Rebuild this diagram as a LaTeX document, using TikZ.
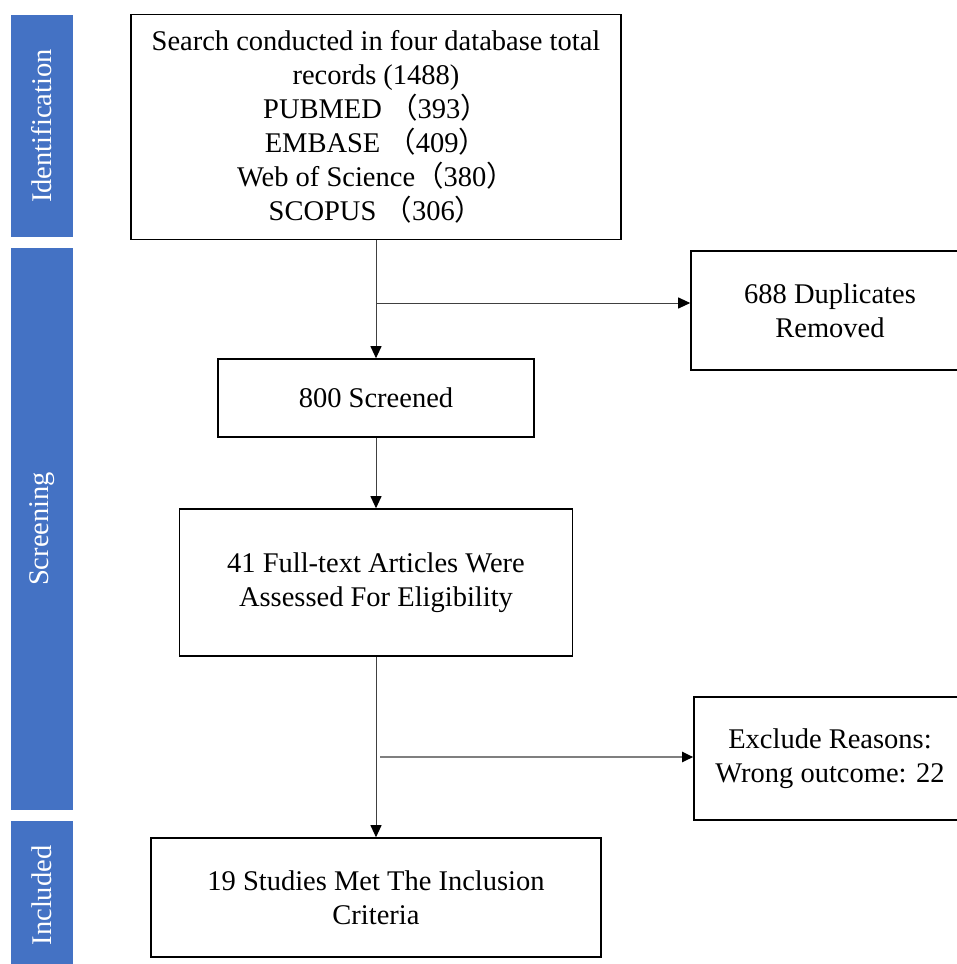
\documentclass[tikz,border=0pt]{standalone}
\usepackage{fontspec}
\setmainfont{Liberation Serif}
\newfontfamily\cjk{Noto Sans CJK SC}
\usetikzlibrary{arrows.meta}
\definecolor{barblue}{HTML}{4472C4}
\definecolor{linegray}{HTML}{404040}
\definecolor{branchgray}{HTML}{7F7F7F}
\newcommand{\lpar}{{\cjk （}}
\newcommand{\rpar}{{\cjk ）}}
\begin{document}
\begin{tikzpicture}[x=1pt,y=-1pt,
  box/.style={draw=black,line width=1.6pt,align=center,inner sep=0pt,
    font=\fontsize{28.5}{34}\selectfont},
  bar/.style={fill=barblue,draw=none,text=white,rotate=90,inner sep=0pt,
    minimum height=62pt,font=\fontsize{28.5}{34}\selectfont},
  conn/.style={draw=linegray,line width=1pt,-{Triangle[length=12pt,width=11pt,color=black]}},
  conngray/.style={draw=branchgray,line width=2pt,-{Triangle[length=11pt,width=10pt,color=black]}}]
\useasboundingbox (0,0) rectangle (956,964);
% phase bars
\node[bar, minimum width=222pt] (idbar) at (42,126) {Identification};
\node[bar, minimum width=562pt] (scbar) at (42,529) {Screening};
\node[bar, minimum width=149pt] (inbar) at (42,895.5) {Included};
% boxes
\node[box, minimum width=490pt, minimum height=225pt] (search) at (376,127)
  {Search conducted in four database total\\records (1488)\\PUBMED \lpar393\rpar\\EMBASE \lpar409\rpar\\Web of Science\lpar380\rpar\\SCOPUS \lpar306\rpar};
\node[box, minimum width=278pt, minimum height=119pt] (dup) at (830,310.5) {688 Duplicates\\Removed};
\node[box, minimum width=316pt, minimum height=78pt] (screened) at (376,398) {800 Screened};
\node[box, minimum width=393pt, minimum height=147pt] (full) at (376,582.5) {41 Full-text Articles Were\\Assessed For Eligibility};
\node[box, minimum width=272pt, minimum height=123pt] (excl) at (830,758.5) {Exclude Reasons:\\Wrong outcome: 22};
\node[box, minimum width=450pt, minimum height=119pt] (incl) at (376,897.5) {19 Studies Met The Inclusion\\Criteria};
% connectors
\coordinate (b1) at (376,303);
\coordinate (b2) at (380,757);
\draw[conn] (search.south) -- (screened.north);
\draw[conn] (b1) -- (b1 -| dup.west);
\draw[conn] (screened.south) -- (full.north);
\draw[conn] (full.south) -- (incl.north);
\draw[conngray] (b2) -- (b2 -| excl.west);
\end{tikzpicture}
\end{document}
